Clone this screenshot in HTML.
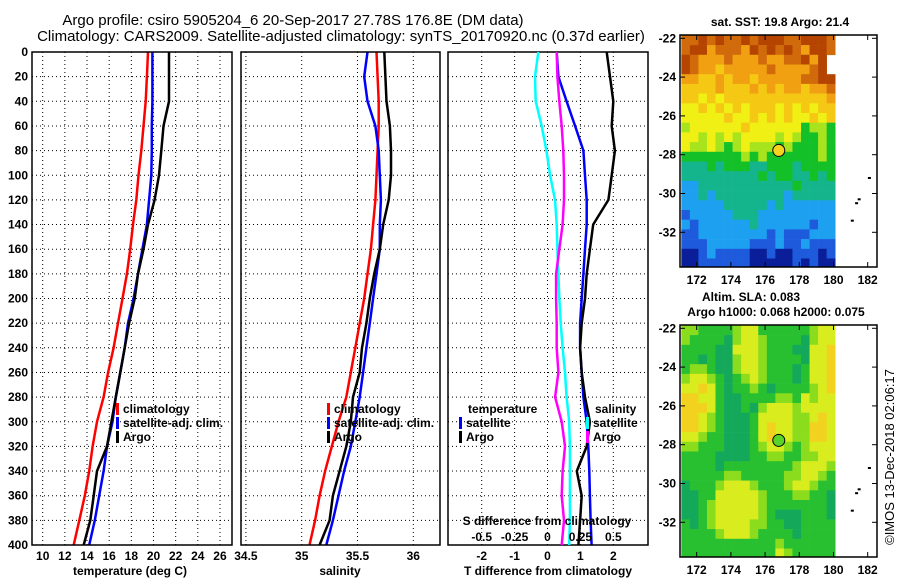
<!DOCTYPE html>
<html><head><meta charset="utf-8">
<style>
html,body{margin:0;padding:0;background:#fff;}
svg{display:block;font-family:"Liberation Sans",Arial,sans-serif;}
.t{font-size:12px;font-weight:bold;fill:#000;}
.ttl{font-size:15px;fill:#000;}
</style></head>
<body>
<svg id="fig" width="900" height="580" viewBox="0 0 900 580" xmlns="http://www.w3.org/2000/svg">
<text class="ttl" x="293" y="25" text-anchor="middle">Argo profile: csiro 5905204_6 20-Sep-2017 27.78S 176.8E (DM data)</text>
<text class="ttl" x="341" y="41" text-anchor="middle">Climatology: CARS2009. Satellite-adjusted climatology: synTS_20170920.nc (0.37d earlier)</text>
<g id="p1"></g>
<g id="p2"></g>
<g id="p3"></g>
<g id="m1"></g>
<g id="m2"></g>
<text x="0" y="0" transform="translate(894,457) rotate(-90)" text-anchor="middle" style="font-size:13px;fill:#000">©IMOS 13-Dec-2018 02:06:17</text>
</svg>
<script>
const depths=[0,20,40,60,80,100,120,140,160,180,200,220,240,260,280,300,320,340,360,380,400];
const depthTicks=[0,20,40,60,80,100,120,140,160,180,200,220,240,260,280,300,320,340,360,380,400];
const tempClim=[19.5,19.4,19.3,19.1,18.9,18.65,18.45,18.15,17.9,17.6,17.2,16.8,16.4,15.9,15.5,14.9,14.5,14.2,13.8,13.3,12.8];
const tempSat=[19.9,19.9,19.9,19.85,19.85,19.8,19.6,19.4,19.0,18.6,18.2,17.7,17.4,17.0,16.6,16.3,15.8,15.5,15.1,14.7,14.2];
const tempArgo=[21.4,21.4,21.4,20.9,20.7,20.5,20.1,19.5,19.1,18.6,18.3,17.8,17.4,17.0,16.6,16.2,15.8,14.9,14.6,14.3,13.7];
const tempTicks=[10,12,14,16,18,20,22,24,26];
const salClim=[35.67,35.68,35.69,35.69,35.68,35.67,35.66,35.64,35.62,35.59,35.56,35.52,35.48,35.44,35.40,35.33,35.27,35.21,35.16,35.12,35.07];
const salSat=[35.59,35.56,35.59,35.66,35.69,35.70,35.71,35.70,35.70,35.67,35.64,35.61,35.58,35.55,35.52,35.48,35.44,35.38,35.33,35.28,35.22];
const salArgo=[35.74,35.75,35.76,35.79,35.80,35.80,35.78,35.73,35.70,35.65,35.61,35.58,35.54,35.52,35.46,35.44,35.40,35.34,35.28,35.25,35.16];
const salTicks=[34.5,35,35.5,36];
const tDiffSat=[0.28,0.33,0.58,0.84,1.09,1.14,1.19,1.19,1.14,1.09,1.04,0.99,0.99,1.04,1.09,1.19,1.24,1.27,1.29,1.31,1.34];
const tDiffArgo=[1.8,1.9,2.0,1.95,2.05,1.95,1.85,1.39,1.29,1.19,1.14,1.04,0.99,1.04,1.14,1.29,1.19,0.89,1.04,0.99,0.94];
const sDiffSat=[-0.07,-0.095,-0.09,-0.044,-0.008,0.02,0.057,0.07,0.075,0.083,0.09,0.1,0.115,0.133,0.145,0.165,0.17,0.17,0.17,0.17,0.165];
const sDiffArgo=[0.07,0.075,0.09,0.108,0.12,0.125,0.125,0.115,0.09,0.065,0.065,0.07,0.07,0.083,0.058,0.108,0.133,0.115,0.108,0.125,0.108];
const tDiffTicks=[-2,-1,0,1,2];
const sDiffTicks=[-0.5,-0.25,0,0.25,0.5];
const sstGrid=["99a9a99a9aaa99aaa9","9aa89998a9a9a98aa9","a9888988898899a8a_","a988788888988889a_","8877878878888899aa","777787778787887889","776767777777777778","667676767776767677","666667667676766767","566666676666664554","665656566665654454","655654565554544454","444444454544444454","333434443344434444","333333333434433434","223333333333343333","223233333333233333","222223333323222222","122222333222222222","212222223222222122","112222222212111222","111222221112112111","001211110010011101","001111110000010100"];
const slaGrid=["221111233111111233","211110233211110233","111100333211100334","110100233211110334","122100233211101334","233210123211101334","334310112101111234","443310011112213233","444310010233323333","443210001333322343","443210001343322443","332110001343322443","221110001233212333","111100001122112233","111101111111123332","111112211111223321","011123332111233211","001133333211122110","001233333211111110","001233333210001110","101233332211001111","111123332111101111","111111111112111111","111111111113211111"];
const latTicks=[-22,-24,-26,-28,-30,-32];
const lonTicks=[172,174,176,178,180,182];
const argoPos=[176.8,-27.78];

const NS="http://www.w3.org/2000/svg";
function mk(parent,tag,attrs){const e=document.createElementNS(NS,tag);for(const k in attrs)e.setAttribute(k,attrs[k]);parent.appendChild(e);return e;}
function txt(parent,x,y,s,anchor,cls){const e=mk(parent,'text',{x:x,y:y,'text-anchor':anchor||'middle',class:cls||'t'});e.textContent=s;return e;}
const Y0=52,Y1=545;
function yD(d){return Y0+(d/400)*(Y1-Y0);}

function panel(g,x0,x1,xf,ticks,tickFmt,series,names){
  for(const d of depthTicks){const l=mk(g,'line',{x1:x0,x2:x1,y1:yD(d),y2:yD(d),stroke:'#000','stroke-width':1,'stroke-dasharray':'1,3'});
    }
  for(const t of ticks){const x=xf(t);if(x>x0+1&&x<x1-1){const l=mk(g,'line',{x1:x,x2:x,y1:Y0,y2:Y1,stroke:'#000','stroke-width':1,'stroke-dasharray':'1,3'});
    }
    const tl=txt(g,x,560,tickFmt(t));}
  series.forEach((s,i)=>{const pts=s.v.map((v,j)=>xf(v).toFixed(1)+','+yD(depths[j]).toFixed(1)).join(' ');
    const p=mk(g,'polyline',{points:pts,fill:'none',stroke:s.c,'stroke-width':2.5,'stroke-linejoin':'round'});
    });
  const r=mk(g,'rect',{x:x0,y:Y0,width:x1-x0,height:Y1-Y0,fill:'none',stroke:'#000','stroke-width':1.5});
  
}
function legend(g,x,y,items){items.forEach((it,i)=>{const b=mk(g,'rect',{x:x,y:y+i*14-10,width:3,height:12,fill:it.c});
  
  const t=txt(g,x+7,y+i*14,it.t,'start');});}

// Panel 1
const p1=document.getElementById('p1');
const xT=t=>42.7+(t-10)*11.08;
panel(p1,32,232,xT,tempTicks,t=>String(t),[{v:tempClim,c:'#f00'},{v:tempSat,c:'#00f'},{v:tempArgo,c:'#000'}],['temp-climatology-line','temp-satellite-line','temp-argo-line']);
for(const d of depthTicks){const t=txt(p1,28,yD(d)+4,String(d),'end');}
{const t=txt(p1,130,575,'temperature (deg C)');}
legend(p1,116,413,[{c:'#f00',t:'climatology'},{c:'#00f',t:'satellite-adj. clim.'},{c:'#000',t:'Argo'}]);

// Panel 2
const p2=document.getElementById('p2');
const xS=s=>301.7+(s-35)*111.6;
panel(p2,241,440,xS,salTicks,s=>String(s),[{v:salClim,c:'#f00'},{v:salSat,c:'#00f'},{v:salArgo,c:'#000'}],['sal-climatology-line','sal-satellite-line','sal-argo-line']);
{const t=txt(p2,340,575,'salinity');}
legend(p2,327,413,[{c:'#f00',t:'climatology'},{c:'#00f',t:'satellite-adj. clim.'},{c:'#000',t:'Argo'}]);

// Panel 3
const p3=document.getElementById('p3');
const xD=t=>547.5+t*32.9;
const xSD=s=>547.5+s*4*32.9;
panel(p3,448,648,xD,tDiffTicks,t=>String(t),[{v:tDiffSat,c:'#00f'},{v:tDiffArgo,c:'#000'}],['tdiff-satellite-line','tdiff-argo-line']);
[[sDiffSat,'#00ffff','sdiff-satellite-line'],[sDiffArgo,'#ff00ff','sdiff-argo-line']].forEach(([arr,c,n])=>{
  const pts=arr.map((v,j)=>xSD(v).toFixed(1)+','+yD(depths[j]).toFixed(1)).join(' ');
  const p=mk(p3,'polyline',{points:pts,fill:'none',stroke:c,'stroke-width':2.5});
  });
for(const s of sDiffTicks){const t=txt(p3,xSD(s),541,String(s));}
{const t=txt(p3,547,525,'S difference from climatology');}
{const t=txt(p3,548,575,'T difference from climatology');}
{const t=txt(p3,468,413,'temperature','start');}
legend(p3,459,427,[{c:'#00f',t:'satellite'},{c:'#000',t:'Argo'}]);
{const t=txt(p3,595,413,'salinity','start');}
legend(p3,586,427,[{c:'#00ffff',t:'satellite'},{c:'#ff00ff',t:'Argo'}]);

// Maps
const sstCol={'0':'#0a1e9a','1':'#1e5adc','2':'#1ea0f0','3':'#14b48c','4':'#14c028','5':'#a8e41e','6':'#f0f014','7':'#f5c814','8':'#f0a010','9':'#d06a0a','a':'#b44400'};
const slaCol={'0':'#14a85a','1':'#28c030','2':'#8cdc1e','3':'#d8ec1e','4':'#f2d21e'};
const lonX=lon=>696.7+(lon-172)*17.1;
function drawMap(g,top,latY0,grid,cols,pointFill,titles){
  const latY=lat=>latY0+(-22-lat)*19.4;
  const cw=0.5*17.1,ch=0.5*19.4,x0=lonX(171.1),y0=latY(-21.85);
  grid.forEach((row,r)=>{for(let c=0;c<row.length;c++){const k=row[c];if(!cols[k])continue;
    const yy=y0+r*ch;const hh=Math.min(ch+0.3,top+232-yy);if(hh<=0)continue;
    const cell=mk(g,'rect',{x:(x0+c*cw).toFixed(2),y:yy.toFixed(2),width:cw+0.3,height:hh.toFixed(2),fill:cols[k]});
    }});
  const fr=mk(g,'rect',{x:680,y:top,width:197,height:232,fill:'none',stroke:'#000','stroke-width':1.5});
  
  for(const lat of latTicks){const y=latY(lat);
    mk(g,'line',{x1:680,x2:685,y1:y,y2:y,stroke:'#000'});mk(g,'line',{x1:872,x2:877,y1:y,y2:y,stroke:'#000'});
    const t=txt(g,676,y+4,String(lat),'end');}
  for(const lon of lonTicks){const x=lonX(lon);
    mk(g,'line',{x1:x,x2:x,y1:top+232,y2:top+227,stroke:'#000'});mk(g,'line',{x1:x,x2:x,y1:top,y2:top+5,stroke:'#000'});
    const t=txt(g,x,top+249,String(lon));}
  [[182.1,-29.2],[181.5,-30.3],[181.35,-30.5],[181.1,-31.4]].forEach(p=>{const e=mk(g,'rect',{x:lonX(p[0])-1.5,y:latY(p[1])-1,width:3,height:2,fill:'#000'});
    });
  const c=mk(g,'circle',{cx:lonX(argoPos[0]),cy:latY(argoPos[1]),r:6,fill:pointFill,stroke:'#000','stroke-width':1});
  
  titles.forEach(tt=>{const t=txt(g,tt[0],tt[1],tt[2]);});
}
drawMap(document.getElementById('m1'),35,38.3,sstGrid,sstCol,'#f5d21e',[[780,26,'sat. SST: 19.8 Argo: 21.4']]);
drawMap(document.getElementById('m2'),325,328.3,slaGrid,slaCol,'#5ad228',[[751,301,'Altim. SLA: 0.083'],[776,316,'Argo h1000: 0.068 h2000: 0.075']]);
</script>
</body></html>
